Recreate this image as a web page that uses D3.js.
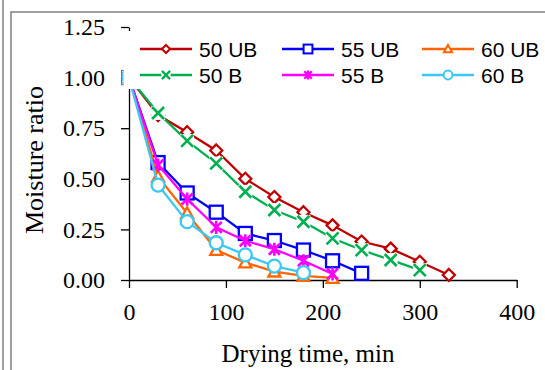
<!DOCTYPE html>
<html>
<head>
<meta charset="utf-8">
<script src="https://cdn.jsdelivr.net/npm/d3@7"></script>
<style>
  body { margin: 0; background: #fff; }
  svg { display: block; }
</style>
</head>
<body>
<svg id="chart" width="545" height="370"></svg>
<script>
// drying time (min) and moisture ratio per series
const times = [0, 30, 60, 90, 120, 150, 180, 210, 240, 270, 300, 330];
const mr50UB = [1.00, 0.815, 0.73, 0.64, 0.50, 0.41, 0.335, 0.27, 0.19, 0.155, 0.09, 0.025];
const mr55UB = [1.00, 0.58, 0.43, 0.335, 0.23, 0.195, 0.148, 0.095, 0.033];
const mr60UB = [1.00, 0.51, 0.33, 0.148, 0.086, 0.041, 0.02, 0.01];
const mr50B = [1.00, 0.825, 0.687, 0.576, 0.436, 0.346, 0.288, 0.206, 0.148, 0.099, 0.049];
const mr55B = [1.00, 0.568, 0.40, 0.26, 0.194, 0.152, 0.095, 0.03];
const mr60B = [1.00, 0.469, 0.288, 0.184, 0.124, 0.069, 0.036];
const xTicks = [0, 100, 200, 300, 400];
const yTicks = [0, 0.25, 0.5, 0.75, 1.0, 1.25];

const series = [
  { name: "50 UB", values: mr50UB, color: "#C00000", marker: "diamond" },
  { name: "55 UB", values: mr55UB, color: "#0000FF", marker: "square" },
  { name: "60 UB", values: mr60UB, color: "#FF6600", marker: "triangle" },
  { name: "50 B", values: mr50B, color: "#00B050", marker: "cross" },
  { name: "55 B", values: mr55B, color: "#FF00FF", marker: "star" },
  { name: "60 B", values: mr60B, color: "#3CC8F5", marker: "circle" }
];

const svg = d3.select("#chart");

// frame
svg.append("line").attr("x1", 3).attr("x2", 3).attr("y1", 0).attr("y2", 370)
  .attr("stroke", "#808080").attr("stroke-width", 1.5);
svg.append("rect").attr("x", 11).attr("y", 12).attr("width", 560).attr("height", 380)
  .attr("fill", "none").attr("stroke", "#808080").attr("stroke-width", 1.5);

const x = d3.scaleLinear().domain([0, 400]).range([129, 516.7]);
const y = d3.scaleLinear().domain([0, 1.25]).range([280, 27]);

const serif = "'Liberation Serif', 'Times New Roman', serif";
const sans = "'Liberation Sans', Arial, sans-serif";

const xAxis = svg.append("g").attr("transform", "translate(0,280)")
  .call(d3.axisBottom(x).tickValues(xTicks).tickFormat(d3.format("d"))
    .tickSize(8).tickSizeOuter(0).tickPadding(15));
const yAxis = svg.append("g").attr("transform", "translate(129,0)")
  .call(d3.axisLeft(y).tickValues(yTicks).tickFormat(d3.format(".2f"))
    .tickSize(8).tickSizeOuter(0).tickPadding(16));

[xAxis, yAxis].forEach(g => {
  g.select(".domain").attr("stroke", "#000").attr("stroke-width", 1.3);
  g.selectAll(".tick line").attr("stroke", "#000").attr("stroke-width", 1.3);
  g.selectAll("text").attr("font-family", serif).attr("font-size", 24).attr("fill", "#000");
});

function drawMarker(g, type, color, s, w) {
  if (type === "diamond") {
    g.append("path").attr("d", `M0,${-s}L${s},0L0,${s}L${-s},0Z`)
      .attr("fill", "#fff").attr("stroke", color).attr("stroke-width", w);
  } else if (type === "square") {
    g.append("rect").attr("x", -s).attr("y", -s).attr("width", 2 * s).attr("height", 2 * s)
      .attr("fill", "#fff").attr("stroke", color).attr("stroke-width", w);
  } else if (type === "triangle") {
    g.append("path").attr("d", `M0,${-s}L${s},${s * 0.8}L${-s},${s * 0.8}Z`)
      .attr("fill", "#fff").attr("stroke", color).attr("stroke-width", w);
  } else if (type === "circle") {
    g.append("circle").attr("r", s)
      .attr("fill", "#fff").attr("stroke", color).attr("stroke-width", w);
  } else if (type === "cross") {
    const b = s * 1.15;
    g.append("rect").attr("x", -b).attr("y", -b).attr("width", 2 * b).attr("height", 2 * b)
      .attr("fill", "#fff");
    g.append("path").attr("d", `M${-s},${-s}L${s},${s}M${s},${-s}L${-s},${s}`)
      .attr("stroke", color).attr("stroke-width", w + 0.3);
  } else if (type === "star") {
    g.append("path").attr("d", `M${-s},${-s}L${s},${s}M${s},${-s}L${-s},${s}M0,${-s * 1.2}L0,${s * 1.2}`)
      .attr("stroke", color).attr("stroke-width", w + 0.3);
  }
}

const markerSize = { diamond: 6, square: 6.5, triangle: 6, circle: 6.5, cross: 6, star: 5.5 };

const line = d3.line().x(d => x(d[0])).y(d => y(d[1]));

series.forEach(s => {
  const pts = s.values.map((v, i) => [times[i], v]);
  const g = svg.append("g");
  g.append("path").datum(pts).attr("d", line)
    .attr("fill", "none").attr("stroke", s.color).attr("stroke-width", 2.3);
  pts.forEach(p => {
    const m = g.append("g").attr("transform", `translate(${x(p[0])},${y(p[1])})`);
    drawMarker(m, s.marker, s.color, markerSize[s.marker], 2.3);
  });
});

// legend with white background
const legend = svg.append("g");
legend.append("rect").attr("x", 123.5).attr("y", 31).attr("width", 425).attr("height", 58)
  .attr("fill", "#fff");
const colX = [140, 282, 422];
const rowY = [49, 75];
series.forEach((s, i) => {
  const cx = colX[i % 3], cy = rowY[Math.floor(i / 3)];
  const item = legend.append("g");
  item.append("line").attr("x1", cx).attr("x2", cx + 52).attr("y1", cy).attr("y2", cy)
    .attr("stroke", s.color).attr("stroke-width", 2.3);
  const m = item.append("g").attr("transform", `translate(${cx + 26},${cy})`);
  drawMarker(m, s.marker, s.color, markerSize[s.marker] * 0.68, 2);
  item.append("text").attr("x", cx + 59).attr("y", cy).attr("dy", "0.36em")
    .attr("font-family", sans).attr("font-size", 21).attr("fill", "#000")
    .text(s.name);
});

// axis titles
svg.append("text").attr("x", 308).attr("y", 362).attr("text-anchor", "middle")
  .attr("font-family", serif).attr("font-size", 25).attr("fill", "#000")
  .text("Drying time, min");
svg.append("text").attr("transform", "translate(43,160) rotate(-90)")
  .attr("text-anchor", "middle")
  .attr("font-family", serif).attr("font-size", 26).attr("fill", "#000")
  .text("Moisture ratio");
</script>
</body>
</html>
